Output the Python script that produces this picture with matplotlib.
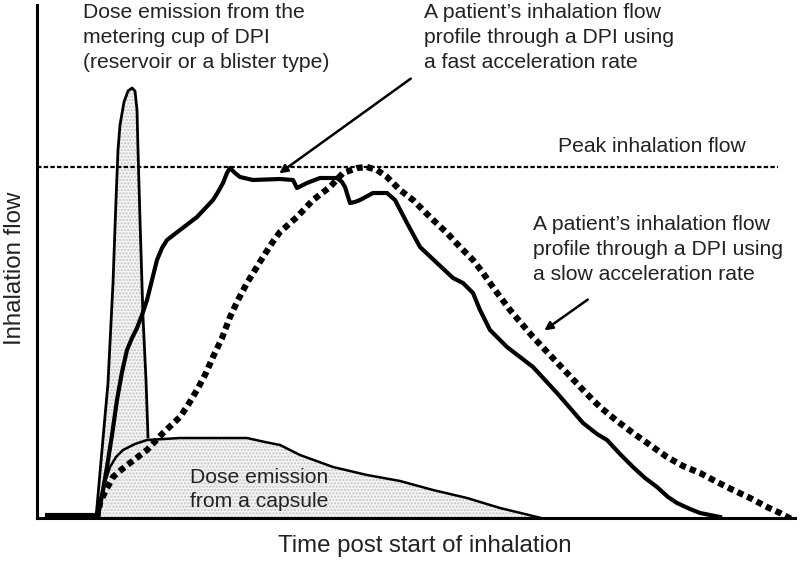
import matplotlib.pyplot as plt
import numpy as np

plt.rcParams['font.family'] = ['Liberation Sans', 'DejaVu Sans']

# curves (time, flow) in arbitrary units
fast_t = [10, 56, 61, 66, 70, 75, 80, 85, 90, 95, 100, 105, 110, 115, 120, 125, 130, 143, 160,
          176, 181, 186, 190, 193, 198, 203, 216, 243, 256, 260, 270, 283, 300, 305, 308, 313,
          318, 323, 336, 350, 358, 370, 383, 400, 416, 426, 436, 443, 453, 470, 496, 520, 546,
          560, 570, 583, 596, 608, 620, 631, 640, 653, 663, 683]
fast_f = [3, 3, 2, 28, 51, 83, 118, 146, 168, 180, 190, 203, 218, 238, 258, 270, 278, 288, 301,
          318, 326, 335, 345, 350, 345, 341, 338, 339, 338, 330, 335, 340, 340, 336, 331, 315,
          316, 318, 325, 325, 318, 295, 271, 255, 240, 235, 225, 208, 188, 171, 151, 125, 95,
          84, 78, 64, 51, 40, 31, 21, 15, 9, 5, 1]

slow_t = [60, 63, 68, 76, 84, 93, 110, 126, 143, 151, 160, 168, 176, 185, 193, 201, 210, 218,
          226, 235, 243, 260, 276, 293, 306, 320, 330, 340, 350, 363, 376, 393, 410, 423, 436,
          446, 458, 473, 496, 513, 530, 548, 563, 580, 596, 613, 630, 646, 663, 680, 696, 713,
          730, 743, 756]
slow_f = [0, 15, 26, 41, 48, 55, 68, 85, 101, 113, 128, 143, 161, 180, 201, 218, 235, 248, 261,
          275, 286, 301, 318, 331, 345, 350, 351, 348, 341, 328, 318, 301, 285, 271, 258, 245,
          228, 208, 181, 163, 145, 126, 111, 97, 85, 73, 61, 52, 45, 36, 28, 20, 11, 5, -2]

capsule_t = [60, 63, 67, 73, 79, 86, 98, 110, 143, 210, 228, 243, 263, 296, 330, 363, 396, 430,
             463, 496, 508]
capsule_f = [0, 18, 33, 51, 61, 68, 74, 78, 80, 80, 76, 73, 63, 51, 43, 37, 28, 20, 10, 2, -1]

cup_t = [59, 65, 71, 76, 79, 81, 83, 87, 91, 95, 98, 100, 101, 103, 106, 109, 111]
cup_f = [0, 68, 135, 235, 318, 368, 393, 416, 427, 430, 427, 408, 368, 298, 201, 138, 81]

peak_flow = 351
peak_end = 741

fig = plt.figure(figsize=(8, 5.61), dpi=100)
ax = fig.add_axes([37 / 800, 43 / 561, 758 / 800, 513 / 561])
ax.set_xlim(0, 758)
ax.set_ylim(0, 513)

stipple = dict(facecolor='#f4f4f4', edgecolor='#c4c4c4', hatch='.....', linewidth=0)
ax.fill_between(capsule_t, capsule_f, 0, **stipple)
ax.fill_between(cup_t, cup_f, 0, **stipple)

ax.plot([0, peak_end], [peak_flow, peak_flow], color='k', lw=1.6, dashes=(2, 1))
ax.plot(capsule_t, capsule_f, color='k', lw=1.8, solid_joinstyle='round')
ax.plot(cup_t, cup_f, color='k', lw=2.0, solid_joinstyle='round')
ax.plot(fast_t, fast_f, color='k', lw=3.0, solid_joinstyle='round')
ax.plot(slow_t, slow_f, color='k', lw=4.5, dashes=(1, 0.7), dash_capstyle='butt')

for s in ['top', 'right']:
    ax.spines[s].set_visible(False)
for s in ['left', 'bottom']:
    ax.spines[s].set_linewidth(2.2)
ax.set_xticks([])
ax.set_yticks([])

tc = '#222222'
fs = 15.2
ls = 1.4
ax.text(46, 515, 'Dose emission from the\nmetering cup of DPI\n(reservoir or a blister type)',
        fontsize=fs, color=tc, va='top', ha='left', linespacing=ls)
ax.text(387, 515, 'A patient\u2019s inhalation flow\nprofile through a DPI using\na fast acceleration rate',
        fontsize=fs, color=tc, va='top', ha='left', linespacing=ls)
ax.text(521, 371, 'Peak inhalation flow', fontsize=fs, color=tc, va='center', ha='left')
ax.text(496, 303, 'A patient\u2019s inhalation flow\nprofile through a DPI using\na slow acceleration rate',
        fontsize=fs, color=tc, va='top', ha='left', linespacing=ls)
ax.text(153, 50, 'Dose emission\nfrom a capsule', fontsize=fs, color=tc, va='top', ha='left',
        linespacing=1.33)

ax.annotate('', xy=(240, 343), xytext=(376, 441),
            arrowprops=dict(arrowstyle='-|>', lw=1.8, color='k', mutation_scale=12))
ax.annotate('', xy=(505, 186), xytext=(553, 220),
            arrowprops=dict(arrowstyle='-|>', lw=1.8, color='k', mutation_scale=12))

ax.set_xlabel('Time post start of inhalation', fontsize=17.3, color=tc)
ax.set_ylabel('Inhalation flow', fontsize=17.3, color=tc)
ax.xaxis.set_label_coords(388 / 758, -17 / 513)
ax.yaxis.set_label_coords(-11 / 758, 250 / 513)

fig.savefig('out.png', dpi=100)
